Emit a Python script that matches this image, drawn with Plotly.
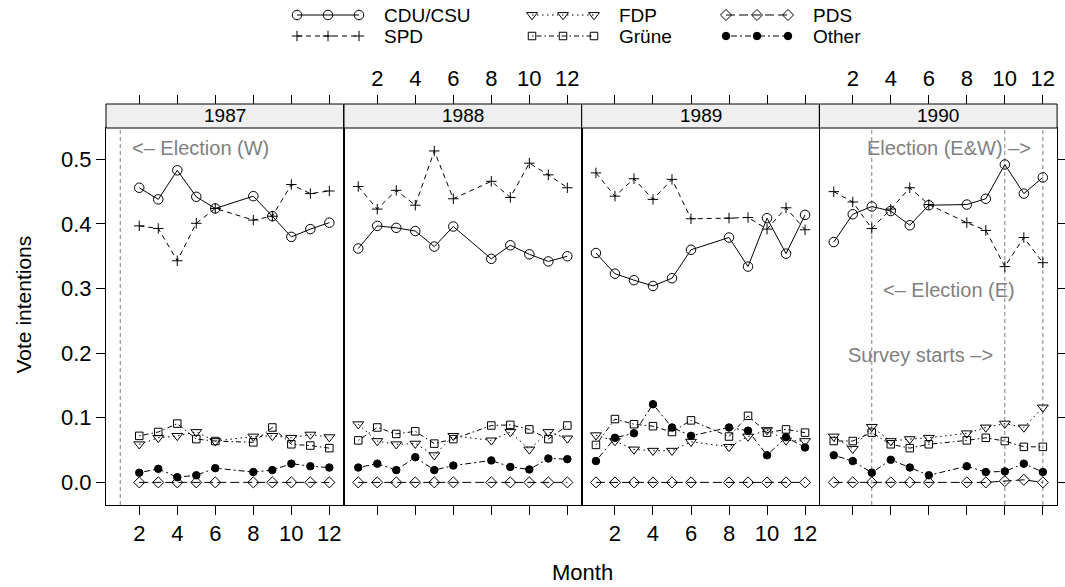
import plotly.graph_objects as go

# ---------------- data ----------------
years = ["1987", "1988", "1989", "1990"]
months_1987 = [2, 3, 4, 5, 6, 8, 9, 10, 11, 12]
months_rest = [1, 2, 3, 4, 5, 6, 8, 9, 10, 11, 12]
month_ticks = [2, 4, 6, 8, 10, 12]
y_ticks = [0.0, 0.1, 0.2, 0.3, 0.4, 0.5]

cdu_87 = [0.456, 0.438, 0.483, 0.442, 0.424, 0.443, 0.412, 0.380, 0.392, 0.402]
cdu_88 = [0.362, 0.397, 0.394, 0.389, 0.365, 0.396, 0.346, 0.367, 0.353, 0.342, 0.350]
cdu_89 = [0.355, 0.323, 0.313, 0.304, 0.316, 0.360, 0.379, 0.334, 0.409, 0.354, 0.414]
cdu_90 = [0.372, 0.415, 0.427, 0.420, 0.398, 0.429, 0.430, 0.439, 0.492, 0.447, 0.472]

spd_87 = [0.397, 0.393, 0.343, 0.401, 0.424, 0.406, 0.412, 0.461, 0.447, 0.451]
spd_88 = [0.458, 0.423, 0.452, 0.429, 0.513, 0.439, 0.466, 0.441, 0.494, 0.476, 0.456]
spd_89 = [0.479, 0.443, 0.470, 0.438, 0.469, 0.408, 0.409, 0.410, 0.392, 0.425, 0.391]
spd_90 = [0.450, 0.434, 0.393, 0.423, 0.456, 0.430, 0.402, 0.390, 0.334, 0.379, 0.340]

fdp_87 = [0.059, 0.069, 0.072, 0.078, 0.064, 0.071, 0.072, 0.069, 0.074, 0.070]
fdp_88 = [0.090, 0.064, 0.059, 0.060, 0.042, 0.072, 0.065, 0.078, 0.051, 0.078, 0.068]
fdp_89 = [0.073, 0.064, 0.051, 0.049, 0.049, 0.063, 0.055, 0.071, 0.081, 0.065, 0.064]
fdp_90 = [0.071, 0.052, 0.086, 0.064, 0.067, 0.069, 0.076, 0.085, 0.091, 0.085, 0.116]

gruene_87 = [0.072, 0.078, 0.091, 0.067, 0.064, 0.062, 0.085, 0.059, 0.057, 0.053]
gruene_88 = [0.065, 0.085, 0.075, 0.079, 0.060, 0.067, 0.088, 0.089, 0.082, 0.067, 0.088]
gruene_89 = [0.058, 0.098, 0.090, 0.087, 0.078, 0.096, 0.071, 0.103, 0.077, 0.082, 0.077]
gruene_90 = [0.064, 0.064, 0.077, 0.059, 0.053, 0.059, 0.065, 0.069, 0.064, 0.055, 0.055]

pds_87 = [0.0, 0.0, 0.0, 0.0, 0.0, 0.0, 0.0, 0.0, 0.0, 0.0]
pds_88 = [0.0, 0.0, 0.0, 0.0, 0.0, 0.0, 0.0, 0.0, 0.0, 0.0, 0.0]
pds_89 = [0.0, 0.0, 0.0, 0.0, 0.0, 0.0, 0.0, 0.0, 0.0, 0.0, 0.0]
pds_90 = [0.0, 0.0, 0.0, 0.0, 0.0, 0.0, 0.0, 0.0, 0.002, 0.004, 0.0]

other_87 = [0.015, 0.021, 0.008, 0.011, 0.022, 0.016, 0.019, 0.029, 0.025, 0.023]
other_88 = [0.023, 0.029, 0.019, 0.039, 0.019, 0.026, 0.034, 0.024, 0.020, 0.037, 0.036]
other_89 = [0.033, 0.069, 0.076, 0.121, 0.085, 0.072, 0.085, 0.080, 0.042, 0.070, 0.054]
other_90 = [0.042, 0.033, 0.015, 0.035, 0.023, 0.011, 0.025, 0.016, 0.017, 0.029, 0.016]

parties = ["CDU/CSU", "SPD", "FDP", "Grüne", "PDS", "Other"]
party_values = {
    "CDU/CSU": [cdu_87, cdu_88, cdu_89, cdu_90],
    "SPD": [spd_87, spd_88, spd_89, spd_90],
    "FDP": [fdp_87, fdp_88, fdp_89, fdp_90],
    "Grüne": [gruene_87, gruene_88, gruene_89, gruene_90],
    "PDS": [pds_87, pds_88, pds_89, pds_90],
    "Other": [other_87, other_88, other_89, other_90],
}
months_by_year = [months_1987, months_rest, months_rest, months_rest]

# event lines (year panel index, month) and labels
event_panels = [1, 4, 4, 4]
event_months = [1, 3, 10, 12]
event_labels = ["<\u2013 Election (W)", "<\u2013 Election (E)", "Survey starts \u2013>", "Election (E&W) \u2013>"]
label_panels = [1, 4, 4, 4]
label_x = [1.5, 3.5, 9.5, 11.5]
label_y = [0.517, 0.298, 0.197, 0.517]
label_anchor = ["left", "left", "right", "right"]

# ---------------- styles ----------------
FONT = "Liberation Sans, Arial, Helvetica, sans-serif"
GREY = "#7f7f7f"
styles = {
    "CDU/CSU": dict(dash="solid", symbol="circle-open", size=9.5),
    "SPD": dict(dash="5px,4px", symbol="cross-thin-open", size=7.5),
    "FDP": dict(dash="1.5px,3.5px", symbol="triangle-down-open", size=9.5),
    "Grüne": dict(dash="1.5px,3px,5px,3px", symbol="square-open", size=7.5),
    "PDS": dict(dash="9px,4px", symbol="diamond-open", size=8.5),
    "Other": dict(dash="2px,3px,6px,3px", symbol="circle", size=7.5),
}

W, H = 1065, 587
panel_left = [106, 344, 581.7, 819.5]
panel_w = 237.6
panel_top_px, panel_bot_px, strip_top_px = 128, 505, 104
ydom = [1 - panel_bot_px / H, 1 - panel_top_px / H]
strip_y = [1 - panel_top_px / H, 1 - strip_top_px / H]
xrange = [0.25, 12.75]
yrange = [-0.035, 0.5485]
KEY_H = 50

fig = go.Figure()

for i in range(4):
    n = i + 1
    xa = "x" if n == 1 else f"x{n}"
    ya = "y" if n == 1 else f"y{n}"
    for p in parties:
        st = styles[p]
        fig.add_trace(go.Scatter(
            x=months_by_year[i], y=party_values[p][i],
            mode="lines+markers", xaxis=xa, yaxis=ya, showlegend=False,
            line=dict(color="black", width=1, dash=st["dash"]),
            marker=dict(symbol=st["symbol"], size=st["size"], color="black",
                        line=dict(color="black", width=1)),
            hoverinfo="skip"))
    # dummy trace for top tick axis
    fig.add_trace(go.Scatter(x=[None], y=[None], xaxis=f"x{4 + n}", yaxis=ya,
                             showlegend=False, hoverinfo="skip", mode="markers"))

layout = dict(
    width=W, height=H, margin=dict(l=0, r=0, t=0, b=0),
    paper_bgcolor="white", plot_bgcolor="rgba(0,0,0,0)",
    font=dict(family=FONT, color="black", size=20),
    showlegend=False,
)

for i in range(4):
    n = i + 1
    x0 = panel_left[i] / W
    x1 = (panel_left[i] + panel_w) / W
    xkey = "xaxis" if n == 1 else f"xaxis{n}"
    ykey = "yaxis" if n == 1 else f"yaxis{n}"
    yref = "y" if n == 1 else f"y{n}"
    xref = "x" if n == 1 else f"x{n}"
    layout[xkey] = dict(
        domain=[x0, x1], range=xrange, anchor=yref,
        tickmode="array", tickvals=month_ticks,
        ticks="outside", ticklen=9, tickwidth=1, tickcolor="black",
        showticklabels=(n in (1, 3)), tickfont=dict(size=22),
        showline=True, linecolor="black", linewidth=1, mirror=True,
        showgrid=False, zeroline=False, fixedrange=True)
    layout[f"xaxis{4 + n}"] = dict(
        overlaying=xref, range=xrange, anchor="free", position=strip_y[1], side="top",
        tickmode="array", tickvals=month_ticks,
        ticks="outside", ticklen=9, tickwidth=1, tickcolor="black",
        showticklabels=(n in (2, 4)), tickfont=dict(size=22),
        showline=False, showgrid=False, zeroline=False, fixedrange=True)
    yd = dict(domain=ydom, range=yrange, anchor=xref,
              showline=True, linecolor="black", linewidth=1, mirror=True,
              showgrid=False, zeroline=False, fixedrange=True)
    if n == 1:
        yd.update(tickmode="array", tickvals=y_ticks, ticktext=[f"{v:.1f}" for v in y_ticks],
                  ticks="outside", ticklen=9, tickwidth=1, tickcolor="black",
                  tickfont=dict(size=22), side="left")
    elif n == 4:
        yd.update(tickmode="array", tickvals=y_ticks, ticks="outside", ticklen=9,
                  tickwidth=1, tickcolor="black", showticklabels=False, side="right")
    else:
        yd.update(ticks="", showticklabels=False)
    layout[ykey] = yd

# key axis in pixel coordinates (top strip of the figure only)
layout["xaxis9"] = dict(domain=[0, 1], range=[0, W], visible=False, fixedrange=True, anchor="y9")
layout["yaxis9"] = dict(domain=[1 - KEY_H / H, 1], range=[KEY_H, 0], visible=False,
                        fixedrange=True, anchor="x9")

shapes = []
annotations = []
for i in range(4):
    n = i + 1
    xdomref = "x domain" if n == 1 else f"x{n} domain"
    shapes.append(dict(type="rect", xref=xdomref, x0=0, x1=1, yref="paper",
                       y0=strip_y[0], y1=strip_y[1], fillcolor="#efefef",
                       line=dict(color="black", width=1), layer="above"))
    annotations.append(dict(text=years[i], xref=xdomref, x=0.5, yref="paper",
                            y=(strip_y[0] + strip_y[1]) / 2, showarrow=False,
                            xanchor="center", yanchor="middle", font=dict(size=19)))

for pnl, m in zip(event_panels, event_months):
    xr = "x" if pnl == 1 else f"x{pnl}"
    ydr = "y domain" if pnl == 1 else f"y{pnl} domain"
    shapes.append(dict(type="line", xref=xr, x0=m, x1=m, yref=ydr, y0=0, y1=1,
                       line=dict(color=GREY, width=1, dash="4px,3px"), layer="below"))

for pnl, tx, lx, ly, anc in zip(label_panels, event_labels, label_x, label_y, label_anchor):
    xr = "x" if pnl == 1 else f"x{pnl}"
    yr = "y" if pnl == 1 else f"y{pnl}"
    annotations.append(dict(text=tx, xref=xr, yref=yr, x=lx, y=ly, showarrow=False,
                            xanchor=anc, yanchor="middle", font=dict(size=20, color=GREY)))

# axis titles
annotations.append(dict(text="Vote intentions", xref="paper", yref="paper",
                        x=23 / W, y=1 - 304.5 / H, textangle=-90, showarrow=False,
                        xanchor="center", yanchor="middle", font=dict(size=21)))
annotations.append(dict(text="Month", xref="paper", yref="paper",
                        x=582 / W, y=1 - 572 / H, showarrow=False,
                        xanchor="center", yanchor="middle", font=dict(size=22)))

# custom key (3 columns x 2 rows)
key_cols_x = [297, 532, 726]
key_gap = 31
key_text_dx = 85
key_rows_y = [15, 36]
for k, p in enumerate(parties):
    col, row = k // 2, k % 2
    st = styles[p]
    xs = [key_cols_x[col] + j * key_gap for j in range(3)]
    ys = [key_rows_y[row]] * 3
    fig.add_trace(go.Scatter(
        x=xs, y=ys, xaxis="x9", yaxis="y9", mode="lines+markers", showlegend=False,
        line=dict(color="black", width=1, dash=st["dash"]),
        marker=dict(symbol=st["symbol"], size=st["size"], color="black",
                    line=dict(color="black", width=1)),
        hoverinfo="skip"))
    annotations.append(dict(text=p, xref="x9", yref="y9", x=key_cols_x[col] + key_text_dx,
                            y=key_rows_y[row], showarrow=False, xanchor="left",
                            yanchor="middle", font=dict(size=19)))

layout["shapes"] = shapes
layout["annotations"] = annotations
fig.update_layout(**layout)
fig.write_html("out.html")
